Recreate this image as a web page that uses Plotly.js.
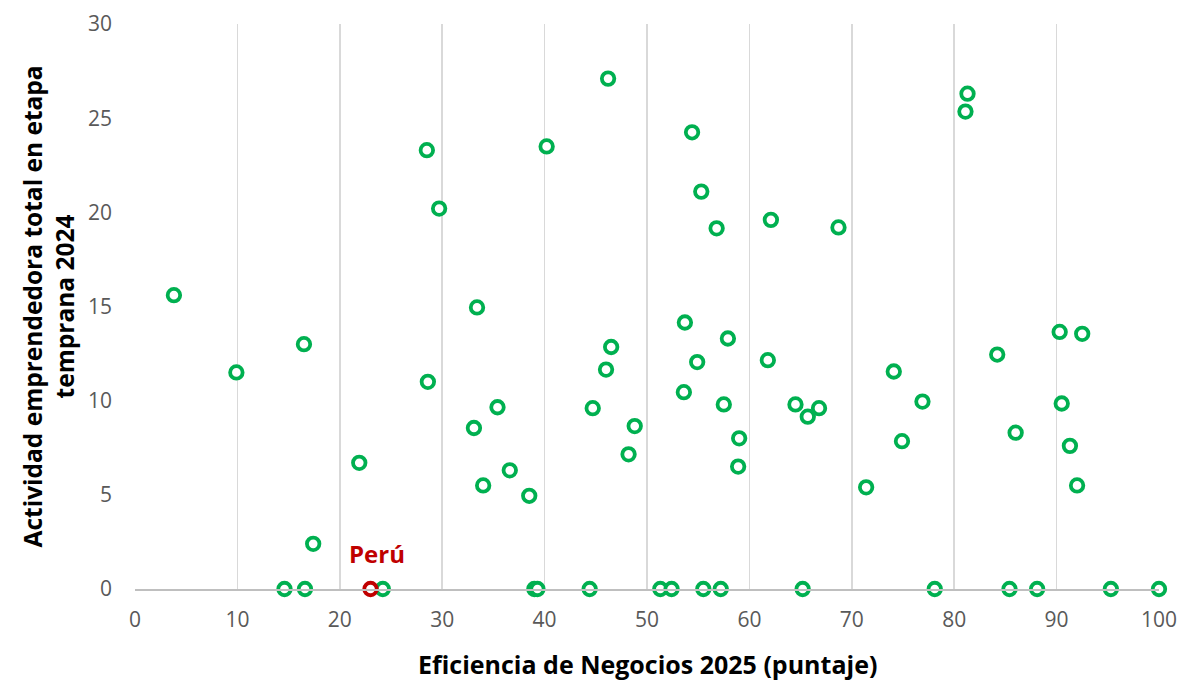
<!DOCTYPE html>
<html>
<head>
<meta charset="utf-8">
<script src="https://cdn.plot.ly/plotly-3.0.1.min.js"></script>
<style>html,body{margin:0;padding:0;background:#fff;}#chart{width:1182px;height:681px;}</style>
</head>
<body>
<div id="chart"></div>
<script>
// Other countries: business efficiency score (x) vs TEA 2024 (y)
const otherX = [3.8, 9.9, 16.5, 17.4, 21.9, 14.6, 16.6, 24.2, 28.5, 29.7, 28.6, 33.4, 33.1, 34.0, 35.4, 36.6, 38.5, 39.0, 39.3, 40.2, 44.4, 44.7, 46.2, 46.0, 46.5, 48.2, 48.8, 51.3, 52.4, 54.4, 53.7, 54.9, 53.6, 55.3, 55.5, 56.8, 57.2, 57.9, 57.5, 59.0, 58.9, 61.8, 62.1, 64.5, 65.7, 66.8, 65.2, 68.7, 71.4, 74.1, 74.9, 76.9, 78.1, 81.3, 81.1, 84.2, 85.4, 86.0, 88.1, 90.3, 92.5, 90.5, 91.3, 92.0, 95.3, 100];
const otherY = [15.6, 11.5, 13.0, 2.4, 6.7, 0, 0, 0, 23.3, 20.2, 11.0, 14.95, 8.55, 5.5, 9.65, 6.3, 4.95, 0, 0, 23.5, 0, 9.6, 27.1, 11.65, 12.85, 7.15, 8.65, 0, 0, 24.25, 14.15, 12.05, 10.45, 21.1, 0, 19.15, 0, 13.3, 9.8, 8.0, 6.5, 12.15, 19.6, 9.8, 9.15, 9.6, 0, 19.2, 5.4, 11.55, 7.85, 9.95, 0, 26.3, 25.35, 12.45, 0, 8.3, 0, 13.65, 13.55, 9.85, 7.6, 5.5, 0, 0];
const peruX = [23.0];
const peruY = [0];
const peruLabel = 'Perú';
const xTitle = 'Eficiencia de Negocios 2025 (puntaje)';
const yTitle = 'Actividad emprendedora total en etapa<br>temprana 2024';

const green = '#00B050';
const red = '#C00000';
const fam = '"Open Sans", Lato, sans-serif';

const traces = [
  {
    x: otherX, y: otherY, type: 'scatter', mode: 'markers', cliponaxis: false,
    marker: {symbol: 'circle', size: 12.5, color: '#ffffff', line: {color: green, width: 3.8}},
    hoverinfo: 'x+y', showlegend: false
  },
  {
    x: peruX, y: peruY, type: 'scatter', mode: 'markers', cliponaxis: false,
    marker: {symbol: 'circle', size: 12.5, color: '#ffffff', line: {color: red, width: 3.8}},
    hoverinfo: 'x+y', showlegend: false
  }
];

const layout = {
  width: 1182, height: 681,
  margin: {l: 135, r: 23, t: 24, b: 92},
  paper_bgcolor: '#ffffff', plot_bgcolor: '#ffffff',
  font: {family: fam, color: '#595959', size: 18},
  xaxis: {
    range: [0, 100], dtick: 10, tick0: 0, showgrid: true, gridcolor: '#D9D9D9', gridwidth: 1.5,
    zeroline: false, showline: true, linecolor: '#BFBFBF', linewidth: 1.5,
    ticks: '', ticklabelstandoff: 11, tickfont: {size: 21, color: '#595959', family: fam}, fixedrange: true
  },
  yaxis: {
    range: [0, 30], dtick: 5, tick0: 0, showgrid: false, zeroline: false, showline: false,
    ticks: '', ticklabelstandoff: 22, tickfont: {size: 21, color: '#595959', family: fam}, fixedrange: true
  },
  annotations: [
    {xref: 'x', yref: 'y', x: peruX[0], y: peruY[0], text: '<b>' + peruLabel + '</b>', showarrow: false,
     yanchor: 'bottom', xanchor: 'center', yshift: 17, xshift: 6, font: {size: 24, color: red, family: fam}},
    {xref: 'paper', yref: 'paper', x: 0.5, y: -0.133, text: '<b>' + xTitle + '</b>', showarrow: false,
     xanchor: 'center', yanchor: 'middle', font: {size: 25, color: '#000000', family: fam}},
    {xref: 'paper', yref: 'paper', x: -0.084, y: 0.5, text: '<b>' + yTitle + '</b>', showarrow: false, textangle: -90,
     xanchor: 'center', yanchor: 'middle', font: {size: 24.5, color: '#000000', family: fam}}
  ]
};

Plotly.newPlot('chart', traces, layout, {displayModeBar: false, staticPlot: true});
</script>
</body>
</html>
